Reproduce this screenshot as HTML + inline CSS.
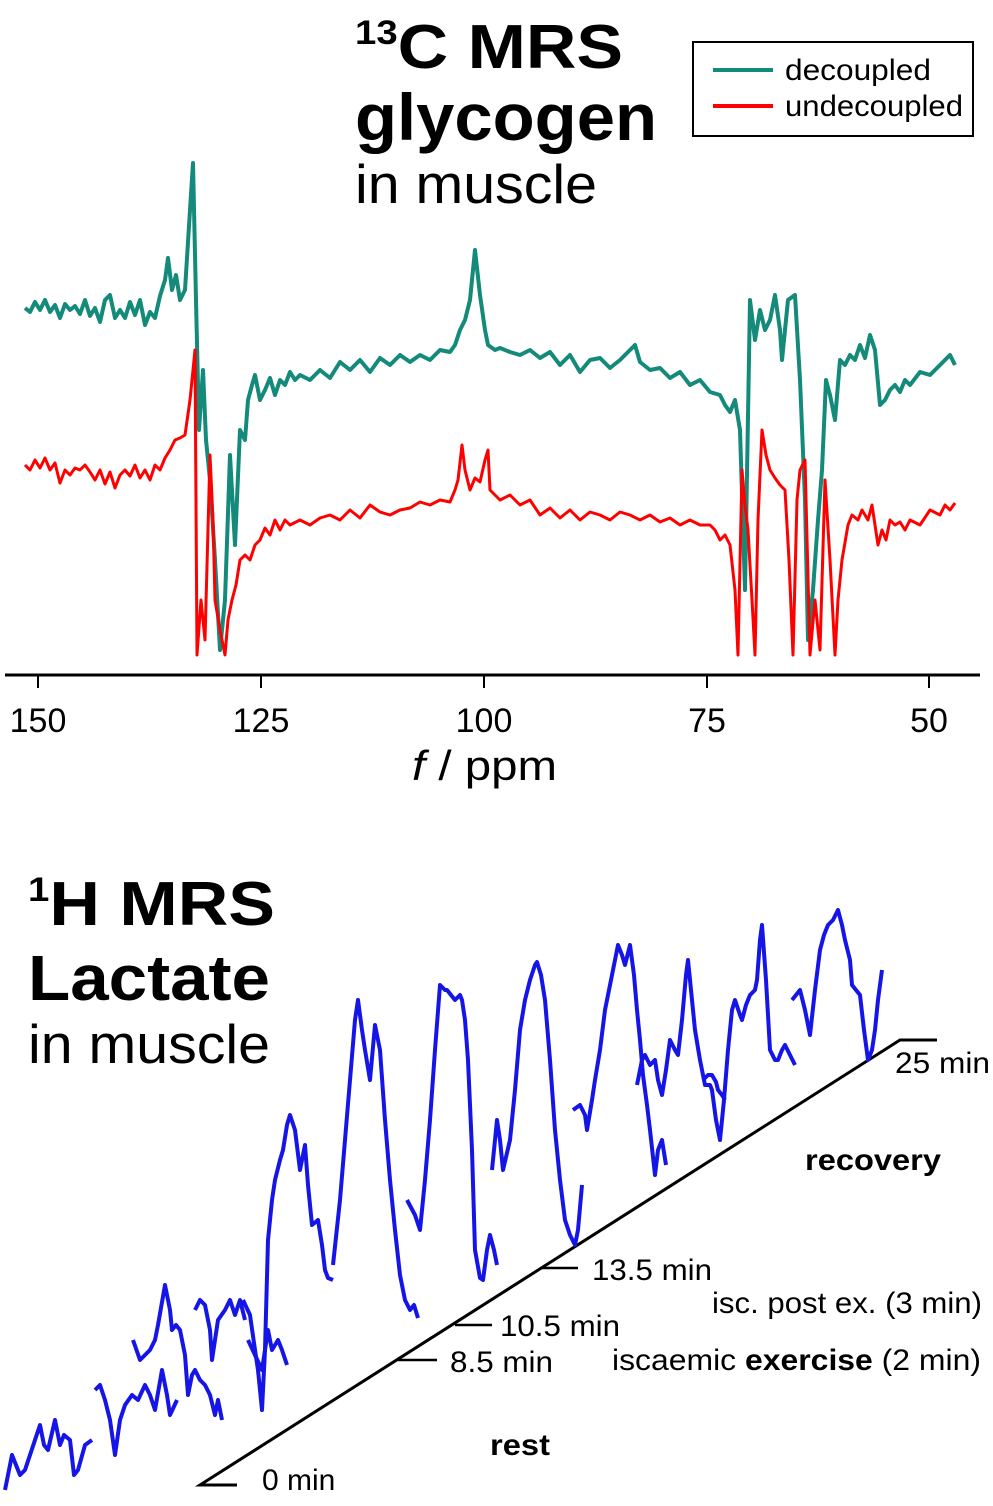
<!DOCTYPE html>
<html><head><meta charset="utf-8"><style>
html,body{margin:0;padding:0;background:#fff}
svg{display:block}
text{font-family:"Liberation Sans",sans-serif;fill:#000}
</style></head><body>
<svg width="993" height="1506" viewBox="0 0 993 1506" xmlns="http://www.w3.org/2000/svg">
<!-- top titles -->
<text x="355" y="68" font-size="62" font-weight="bold" textLength="268" lengthAdjust="spacingAndGlyphs"><tspan font-size="34" dy="-24">13</tspan><tspan dy="24">C MRS</tspan></text>
<text x="355" y="140" font-size="66" font-weight="bold" textLength="302" lengthAdjust="spacingAndGlyphs">glycogen</text>
<text x="355" y="203" font-size="55" textLength="242" lengthAdjust="spacingAndGlyphs">in muscle</text>
<!-- legend -->
<rect x="693" y="42" width="280" height="94" fill="#fff" stroke="#000" stroke-width="2"/>
<line x1="713" y1="70" x2="773" y2="70" stroke="#138a7a" stroke-width="4"/>
<line x1="713" y1="106" x2="773" y2="106" stroke="#f00" stroke-width="4"/>
<text x="785" y="80" font-size="30" textLength="146" lengthAdjust="spacingAndGlyphs">decoupled</text>
<text x="785" y="116" font-size="30" textLength="178" lengthAdjust="spacingAndGlyphs">undecoupled</text>
<!-- axis -->
<line x1="5" y1="675" x2="980" y2="675" stroke="#000" stroke-width="3"/>
<g stroke="#000" stroke-width="2">
<line x1="38" y1="675" x2="38" y2="688"/><line x1="261" y1="675" x2="261" y2="688"/>
<line x1="484" y1="675" x2="484" y2="688"/><line x1="707" y1="675" x2="707" y2="688"/>
<line x1="929" y1="675" x2="929" y2="688"/></g>
<g font-size="34" text-anchor="middle">
<text x="38" y="732">150</text><text x="261" y="732">125</text><text x="484" y="732">100</text><text x="707" y="732">75</text><text x="929" y="732">50</text></g>
<text x="412" y="780" font-size="42" textLength="145" lengthAdjust="spacingAndGlyphs"><tspan font-style="italic">f</tspan>  / ppm</text>
<!-- green -->
<polyline fill="none" stroke="#138a7a" stroke-width="4" stroke-linejoin="round" points="25,308 30,312 35,302 40,310 45,300 50,312 55,305 60,318 65,304 70,310 75,306 80,314 85,300 90,316 95,308 100,322 105,300 110,295 115,318 120,310 125,318 130,302 135,315 140,300 145,325 150,312 155,318 160,296 165,280 168,258 172,290 176,275 180,300 185,290 190,210 193,163 196,300 199,430 203,370 206,440 210,480 215,560 220,650 225,600 230,455 235,545 240,430 245,440 248,400 252,385 255,375 260,400 265,390 270,378 275,395 280,380 285,385 290,372 295,380 300,375 310,380 320,370 330,378 340,362 350,370 360,360 370,372 380,358 390,365 400,355 410,362 420,355 430,360 440,350 450,352 455,345 460,330 465,320 470,300 475,250 480,295 485,330 488,345 495,350 500,348 510,352 520,355 530,350 540,358 550,352 560,365 570,355 580,372 590,360 600,358 610,368 620,360 630,350 635,345 640,362 650,370 660,368 670,378 680,372 690,385 700,380 710,392 720,395 725,405 730,412 735,400 740,430 745,590 750,300 755,340 760,310 765,330 770,320 775,295 780,330 782,360 788,300 795,295 800,380 805,500 808,640 813,590 818,520 822,470 826,380 830,395 835,420 840,360 845,365 850,355 855,360 860,345 865,358 870,335 875,350 880,405 885,400 890,390 895,385 900,392 905,380 910,385 920,372 930,375 940,365 950,355 955,365"/>
<!-- red -->
<polyline fill="none" stroke="#f00" stroke-width="3" stroke-linejoin="round" points="25,465 30,470 35,460 40,468 45,458 50,470 55,463 60,483 65,470 70,475 75,468 80,470 85,465 90,472 95,480 100,470 105,484 110,472 115,488 120,475 125,470 130,476 135,465 140,478 145,470 150,480 155,465 160,470 165,458 170,450 175,440 180,438 185,435 190,400 195,350 197,655 201,600 205,640 210,455 213,520 215,600 220,630 225,655 228,620 232,600 236,585 240,560 245,555 250,560 255,545 260,540 265,528 270,535 275,520 280,530 285,520 290,525 300,520 310,525 320,518 330,515 340,520 350,510 360,518 370,505 380,512 390,515 400,510 410,508 420,502 430,505 440,500 450,502 455,490 458,480 462,445 465,470 470,490 475,478 480,482 485,460 488,450 490,490 495,495 500,500 510,495 520,505 530,500 540,515 550,508 560,518 570,510 580,520 590,512 600,515 610,520 620,512 630,515 640,520 650,515 660,522 670,518 680,525 690,520 700,525 710,525 715,530 720,540 725,535 730,545 735,590 738,655 742,470 745,505 748,530 752,600 755,655 758,520 762,430 766,455 770,470 775,478 780,485 785,490 789,560 793,655 797,500 800,470 805,460 810,655 815,600 820,650 825,480 830,560 835,655 838,600 842,560 848,525 852,515 858,520 862,510 868,520 872,505 878,545 882,530 886,540 890,520 895,525 900,522 905,530 910,520 920,525 930,510 940,515 945,505 950,510 955,503"/>
<!-- bottom titles -->
<text x="28" y="925" font-size="62" font-weight="bold" textLength="247" lengthAdjust="spacingAndGlyphs"><tspan font-size="34" dy="-24">1</tspan><tspan dy="24">H MRS</tspan></text>
<text x="28" y="1000" font-size="64" font-weight="bold" textLength="242" lengthAdjust="spacingAndGlyphs">Lactate</text>
<text x="28" y="1063" font-size="55" textLength="242" lengthAdjust="spacingAndGlyphs">in muscle</text>
<!-- diagonal axis -->
<polyline fill="none" stroke="#000" stroke-width="3" points="237,1485 200,1485 900,1040 937,1040"/>
<g stroke="#000" stroke-width="2.5">
<line x1="398" y1="1360" x2="437" y2="1360"/>
<line x1="455" y1="1325" x2="492" y2="1325"/>
<line x1="542" y1="1268" x2="578" y2="1268"/></g>
<g font-size="30">
<text x="262" y="1490">0 min</text>
<text x="450" y="1372" textLength="103" lengthAdjust="spacingAndGlyphs">8.5 min</text>
<text x="500" y="1336" textLength="120" lengthAdjust="spacingAndGlyphs">10.5 min</text>
<text x="592" y="1280" textLength="120" lengthAdjust="spacingAndGlyphs">13.5 min</text>
<text x="895" y="1073" textLength="95" lengthAdjust="spacingAndGlyphs">25 min</text>
<text x="805" y="1170" font-weight="bold" textLength="136" lengthAdjust="spacingAndGlyphs">recovery</text>
<text x="712" y="1313" textLength="270" lengthAdjust="spacingAndGlyphs">isc. post ex. (3 min)</text>
<text x="612" y="1370" textLength="369" lengthAdjust="spacingAndGlyphs">iscaemic <tspan font-weight="bold">exercise</tspan> (2 min)</text>
<text x="490" y="1455" font-weight="bold" textLength="60" lengthAdjust="spacingAndGlyphs">rest</text>
</g>
<!-- blue traces -->
<g fill="none" stroke="#1515e8" stroke-width="4" stroke-linejoin="round">
<polyline points="5,1490 12,1455 20,1475 25,1470 30,1455 35,1440 40,1425 44,1445 48,1450 55,1420 60,1445 64,1435 70,1440 74,1475 78,1470 85,1445 92,1440"/>
<polyline points="95,1390 100,1385 105,1400 110,1420 115,1455 120,1420 125,1405 132,1395 138,1400 145,1385 150,1395 155,1410 162,1370 167,1395 170,1415 177,1400"/>
<polyline points="133,1340 140,1360 145,1355 150,1350 155,1340 158,1325 165,1285 170,1310 172,1330 176,1325 180,1330 185,1355 188,1395 192,1375 195,1370 200,1380 205,1385 210,1395 215,1415 218,1400 222,1420"/>
<polyline points="195,1310 200,1300 205,1305 210,1330 212,1360 218,1320 225,1310 230,1300 235,1315 240,1300 245,1320"/>
<polyline points="243,1300 250,1315 255,1350 258,1370 262,1410 265,1350 268,1240 272,1200 275,1180 280,1160 283,1150 287,1125 290,1115 295,1130 300,1170 305,1145 308,1185 312,1225 318,1220 322,1245 325,1270 328,1278 333,1280"/>
<polyline points="248,1340 255,1355 262,1370 268,1330 272,1350 278,1340 282,1350 287,1365"/>
<polyline points="333,1265 340,1200 345,1140 350,1080 355,1020 358,1000 362,1030 365,1050 370,1080 375,1025 380,1050 385,1120 390,1180 395,1230 400,1275 405,1300 410,1310 414,1305 418,1318"/>
<polyline points="407,1200 415,1215 420,1230 425,1180 430,1120 435,1050 440,985 445,990 447,990 451,995 455,1000 460,995 462,1000 465,1020 468,1060 472,1150 475,1250 480,1278 483,1280 487,1250 490,1235 494,1250 497,1265"/>
<polyline points="492,1170 497,1120 500,1140 503,1170 510,1140 515,1090 520,1030 525,1000 530,980 535,965 537,962 541,975 545,1000 550,1060 555,1130 560,1180 565,1220 570,1235 575,1245 578,1230 582,1185"/>
<polyline points="573,1110 580,1105 585,1115 587,1130 592,1100 595,1080 600,1050 605,1010 610,985 612,975 618,945 622,955 625,965 630,945 634,975 637,1010 640,1040 643,1075 647,1105 650,1130 655,1175 658,1150 662,1140 666,1165"/>
<polyline points="637,1085 642,1060 645,1055 650,1065 655,1060 658,1080 662,1095 666,1070 670,1040 675,1050 678,1055 682,1020 686,975 688,960 692,1000 695,1030 700,1060 705,1085 710,1085 712,1090 716,1120 720,1140 724,1100 728,1050 732,1010 735,1000 740,1015 742,1020 746,1005 750,995 755,990 757,980 760,940 762,925 766,980 770,1050 775,1060 778,1060 782,1050 785,1045 790,1055 795,1065"/>
<polyline points="703,1080 708,1075 712,1075 716,1082 718,1090 722,1095 725,1100"/>
<polyline points="792,1000 796,995 800,990 805,1010 810,1035 815,990 820,950 824,935 828,925 833,920 838,910 842,925 845,940 850,960 852,985 856,990 860,995 864,1030 868,1060 872,1050 875,1030 878,1000 882,970"/>
</g>
</svg>
</body></html>
